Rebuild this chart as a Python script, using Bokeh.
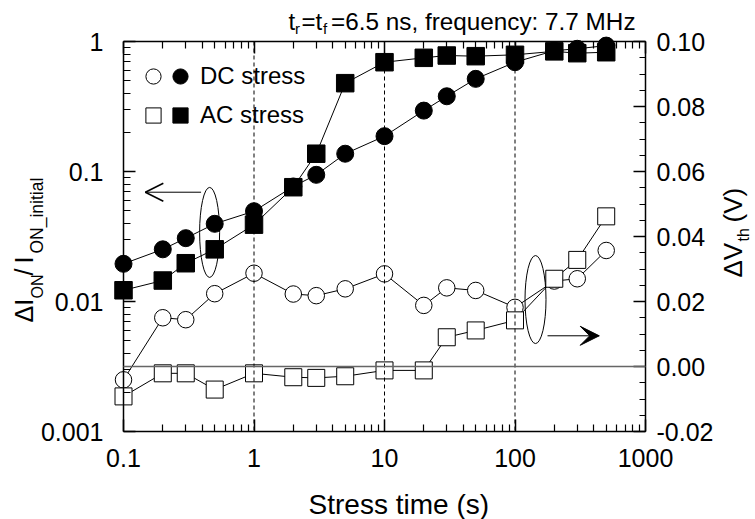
import math
from bokeh.plotting import figure
from bokeh.models import (LinearAxis, LogAxis, Range1d, FixedTicker, SingleIntervalTicker,
                          PrintfTickFormatter, CustomJSTickFormatter, Span, Label, Arrow,
                          OpenHead, VeeHead, Legend, LegendItem, ColumnDataSource, LinearScale)
from bokeh.embed import file_html
from bokeh.resources import INLINE

# ---------------- data ----------------
stress_time = [0.1, 0.2, 0.3, 0.5, 1, 2, 3, 5, 10, 20, 30, 50, 100, 200, 300, 500]
dc_delta_ion = [0.0195, 0.0252, 0.0307, 0.0396, 0.0495, 0.0767, 0.0943, 0.137, 0.187,
                0.294, 0.379, 0.516, 0.693, 0.85, 0.879, 0.93]
ac_delta_ion = [0.0122, 0.0145, 0.0197, 0.0252, 0.039, 0.0757, 0.137, 0.478, 0.693,
                0.749, 0.78, 0.771, 0.79, 0.84, 0.813, 0.827]
dc_delta_vth = [-0.0041, 0.015, 0.0144, 0.0224, 0.0287, 0.0223, 0.0218, 0.0239, 0.0285,
                0.0188, 0.0242, 0.0234, 0.0182, 0.0263, 0.027, 0.0357]
ac_delta_vth = [-0.0092, -0.0021, -0.0021, -0.0071, -0.0021, -0.0033, -0.0035, -0.003,
                -0.0012, -0.0012, 0.009, 0.0111, 0.0142, 0.027, 0.0328, 0.0462]

x_major = [0.1, 1, 10, 100, 1000]
y_major = [0.001, 0.01, 0.1, 1]
vth_range = (-0.02, 0.10)
dashed_x = [1, 10, 100]

FONT = "Liberation Sans"
FL, FB = 123, 431  # frame left / bottom in canvas px

p = figure(width=755, height=519, x_axis_type="log", y_axis_type="log",
           x_range=Range1d(0.1, 1000), y_range=Range1d(0.001, 1),
           output_backend="svg", toolbar_location=None,
           min_border_left=123, min_border_right=110, min_border_top=41, min_border_bottom=88)
p.grid.visible = False
p.outline_line_color = None
p.extra_y_ranges = {"right": Range1d(*vth_range)}
p.extra_y_scales = {"right": LinearScale()}

x_minor = [k * 10 ** e for e in range(-1, 3) for k in range(2, 10)]
y_minor = [k * 10 ** e for e in range(-3, 0) for k in range(2, 10)]

# The tick formatter also lifts the frame clip of the SVG output, so that the
# axis titles drawn as labels outside the frame (and edge markers) stay visible.
UNCLIP = """
if (!window.__unclip_started) {
  window.__unclip_started = true;
  const walk = (root) => {
    root.querySelectorAll('*').forEach((el) => {
      if (el.hasAttribute && el.hasAttribute('clip-path')) el.removeAttribute('clip-path');
      if (el.shadowRoot) walk(el.shadowRoot);
    });
  };
  setInterval(() => walk(document), 40);
}
"""
num_fmt = CustomJSTickFormatter(code=UNCLIP + "return tick.toString();")


def style_axis(ax, standoff):
    ax.major_tick_in = 12
    ax.major_tick_out = 0
    ax.minor_tick_in = 7
    ax.minor_tick_out = 0
    ax.axis_line_width = 1.5
    ax.major_tick_line_width = 1.5
    ax.minor_tick_line_width = 1.2
    ax.axis_line_color = "black"
    ax.major_tick_line_color = "black"
    ax.minor_tick_line_color = "black"
    ax.major_label_text_font = FONT
    ax.major_label_text_font_size = "25px"
    ax.major_label_text_color = "black"
    ax.major_label_standoff = standoff


xa = p.xaxis[0]
xa.ticker = FixedTicker(ticks=x_major, minor_ticks=x_minor)
xa.formatter = num_fmt
style_axis(xa, 17)

ya = p.yaxis[0]
ya.ticker = FixedTicker(ticks=y_major, minor_ticks=y_minor)
ya.formatter = num_fmt
style_axis(ya, 20)

top = LogAxis(ticker=FixedTicker(ticks=x_major, minor_ticks=x_minor),
              formatter=CustomJSTickFormatter(code="return ''"))
style_axis(top, 0)
top.major_label_text_font_size = "1px"
p.add_layout(top, "above")

right = LinearAxis(y_range_name="right", ticker=SingleIntervalTicker(interval=0.02, num_minor_ticks=4),
                   formatter=PrintfTickFormatter(format="%.2f"))
style_axis(right, 11)
right.minor_tick_in = 6
p.add_layout(right, "right")

for xv in dashed_x:
    p.add_layout(Span(location=xv, dimension="height", line_color="black",
                      line_width=1, line_dash="4 3"))
p.add_layout(Span(location=0, dimension="width", y_range_name="right",
                  line_color="#666666", line_width=1.5))

src = ColumnDataSource(dict(t=stress_time, dc_ion=dc_delta_ion, ac_ion=ac_delta_ion,
                            dc_vth=dc_delta_vth, ac_vth=ac_delta_vth))

p.line("t", "dc_vth", source=src, y_range_name="right", line_color="black", line_width=1)
r_dc_open = p.scatter("t", "dc_vth", source=src, y_range_name="right", marker="circle",
                      size=16.5, fill_color="white", line_color="black", line_width=1)
p.line("t", "ac_vth", source=src, y_range_name="right", line_color="black", line_width=1)
r_ac_open = p.scatter("t", "ac_vth", source=src, y_range_name="right", marker="square",
                      size=17, fill_color="white", line_color="black", line_width=1)
p.line("t", "dc_ion", source=src, line_color="black", line_width=1)
r_dc_fill = p.scatter("t", "dc_ion", source=src, marker="circle", size=17,
                      fill_color="black", line_color="black", line_width=1)
p.line("t", "ac_ion", source=src, line_color="black", line_width=1)
r_ac_fill = p.scatter("t", "ac_ion", source=src, marker="square", size=17.5,
                      fill_color="black", line_color="black", line_width=1)

# ellipses and arrows
p.ellipse(x=[0.457], y=[0.034], width=20, height=90, width_units="screen",
          height_units="screen", fill_color=None, line_color="black", line_width=1)
p.ellipse(x=[143.6], y=[0.0206], width=21, height=88, width_units="screen",
          height_units="screen", fill_color=None, line_color="black", line_width=1,
          y_range_name="right")
p.add_layout(Arrow(x_start=0.393, y_start=0.0693, x_end=0.147, y_end=0.0693,
                   line_color="black", line_width=1,
                   end=OpenHead(size=18, line_width=1.5, line_color="black")))
p.add_layout(Arrow(x_start=177.5, y_start=0.00945, x_end=442, y_end=0.00945,
                   y_range_name="right", line_color="black", line_width=1,
                   end=VeeHead(size=19, fill_color="black", line_color="black")))

# legends (open markers column + filled markers column)
common = dict(padding=0, spacing=1, glyph_width=38, glyph_height=38, margin=0,
              label_text_font=FONT, label_text_font_size="24px", label_text_color="black",
              background_fill_alpha=0, border_line_alpha=0)
legA = Legend(items=[LegendItem(label=" ", renderers=[r_dc_open]),
                     LegendItem(label=" ", renderers=[r_ac_open])],
              location=(134.3 - FL, FB - 134), label_standoff=0, **common)
legB = Legend(items=[LegendItem(label="DC stress", renderers=[r_dc_fill]),
                     LegendItem(label="AC stress", renderers=[r_ac_fill])],
              location=(161 - FL, FB - 134), label_standoff=1, **common)
p.add_layout(legA)
p.add_layout(legB)

K = 0.32  # empirical baseline correction (fraction of font size)


def txt(t, cx, cy, size, angle=0.0, align="left"):
    # cx, cy: wanted baseline-start point in canvas px
    if angle:
        cx -= K * size
    else:
        cy -= K * size
    p.add_layout(Label(x=cx - FL, y=FB - cy, x_units="screen", y_units="screen", text=t,
                       text_font=FONT, text_font_size=f"{size}px", angle=angle,
                       text_align=align, text_baseline="alphabetic", text_color="black"))


# title
txt("t", 288, 29, 24)
txt("r", 294.5, 33, 15)
txt("=t", 301, 29, 24)
txt("f", 322.5, 33, 15)
txt("=6.5 ns, frequency: 7.7 MHz", 330.5, 29, 24.3)

# x axis label
txt("Stress time (s)", 398.3, 512.7, 28, align="center")

# left axis label (rotated)
A = math.pi / 2
txt("\u0394I", 31.7, 322, 25, A)
txt("ON", 41.7, 298, 16, A)
txt("/", 31.7, 275, 25, A)
txt("I", 31.7, 263, 25, A)
txt("ON_initial", 41.7, 253, 17.5, A)

# right axis label (rotated)
txt("\u0394V", 740.5, 277, 26, A)
txt("th", 748.5, 241, 16, A)
txt("(V)", 740.5, 222, 26, A)

open("out.html", "w").write(file_html(p, INLINE))
